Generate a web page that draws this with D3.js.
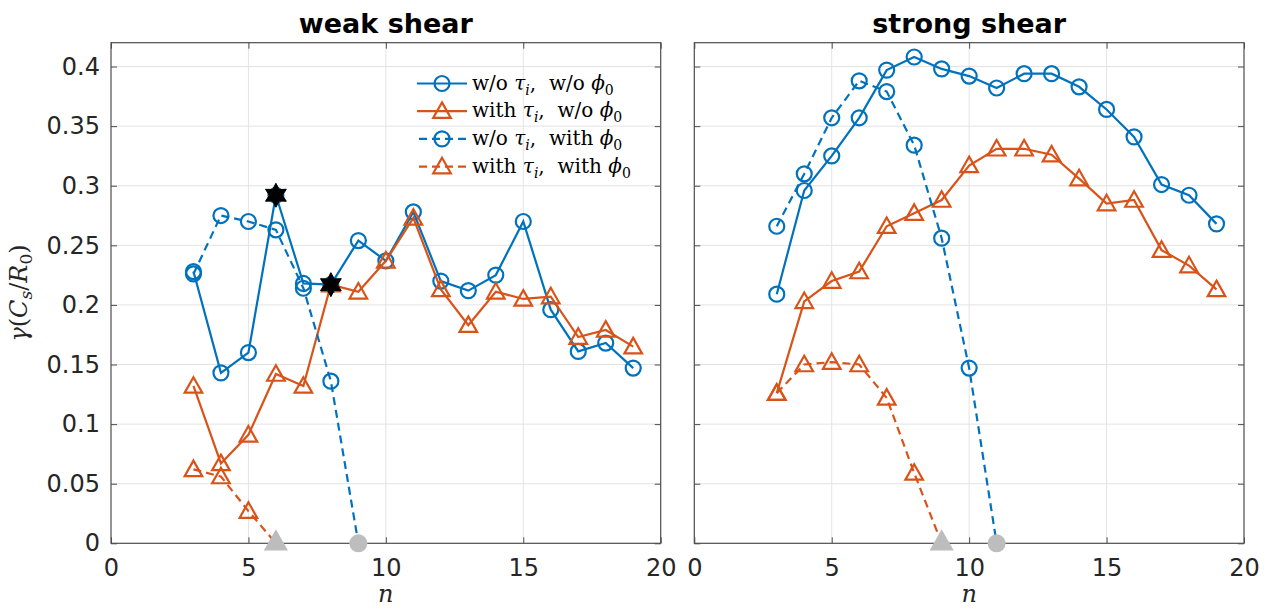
<!DOCTYPE html>
<html>
<head>
<meta charset="utf-8">
<script src="https://cdn.jsdelivr.net/npm/d3@7"></script>
<style>
    body { margin: 0; background: #fff; }
    svg { display: block; }
</style>
</head>
<body>
<svg id="chart" width="1270" height="611"></svg>
<script>
// Data
const xTicks = [0, 5, 10, 15, 20];
const yTicks = [0, 0.05, 0.1, 0.15, 0.2, 0.25, 0.3, 0.35, 0.4];
const yTickLabels = ["0", "0.05", "0.1", "0.15", "0.2", "0.25", "0.3", "0.35", "0.4"];

const nFull = [3, 4, 5, 6, 7, 8, 9, 10, 11, 12, 13, 14, 15, 16, 17, 18, 19];

// weak shear
const weakNoTauNoPhi = [0.228, 0.143, 0.160, 0.292, 0.218, 0.217, 0.254, 0.237, 0.278, 0.220, 0.212, 0.225, 0.270, 0.196, 0.161, 0.168, 0.147];
const weakTauNoPhi = [0.132, 0.067, 0.091, 0.142, 0.132, 0.217, 0.211, 0.237, 0.273, 0.213, 0.183, 0.211, 0.205, 0.207, 0.173, 0.179, 0.165];
const weakNoTauPhiN = [3, 4, 5, 6, 7, 8, 9];
const weakNoTauPhi = [0.226, 0.275, 0.270, 0.263, 0.214, 0.136, 0];
const weakTauPhiN = [3, 4, 5, 6];
const weakTauPhi = [0.062, 0.056, 0.027, 0];
const weakStarN = [6, 8];
const weakStar = [0.292, 0.217];

// strong shear
const strongNoTauNoPhi = [0.209, 0.296, 0.325, 0.357, 0.397, 0.408, 0.398, 0.392, 0.382, 0.394, 0.394, 0.383, 0.364, 0.341, 0.301, 0.292, 0.268];
const strongTauNoPhi = [0.126, 0.203, 0.220, 0.228, 0.266, 0.277, 0.288, 0.317, 0.331, 0.331, 0.326, 0.306, 0.285, 0.288, 0.246, 0.233, 0.213];
const strongNoTauPhiN = [3, 4, 5, 6, 7, 8, 9, 10, 11];
const strongNoTauPhi = [0.266, 0.310, 0.357, 0.388, 0.379, 0.334, 0.256, 0.147, 0];
const strongTauPhiN = [3, 4, 5, 6, 7, 8, 9];
const strongTauPhi = [0.126, 0.150, 0.152, 0.150, 0.122, 0.059, 0];

const blue = "#0072BD";
const orange = "#D95319";
const gray = "#bdbdbd";

const svg = d3.select("#chart");
const plotTop = 42.7, plotBottom = 543.3;
const lineW = 2.2;

function zip(ns, vs) {
    return ns.map((n, i) => ({ n: n, v: vs[i] }));
}

function trianglePath(s) {
    // upward triangle centred on the point
    return `M0,${-s * 0.55}L${s * 0.55},${s * 0.42}L${-s * 0.55},${s * 0.42}Z`;
}

function hexagramPath(r) {
    const pts = [];
    for (let k = 0; k < 12; k++) {
        const a = -Math.PI / 2 + k * Math.PI / 6;
        const rr = k % 2 === 0 ? r : r * 0.55;
        pts.push([rr * Math.cos(a), rr * Math.sin(a)]);
    }
    return "M" + pts.map(p => p.join(",")).join("L") + "Z";
}

// Draw one panel
function drawPanel(left, right, title, series, stars, showYLabels) {
    const x = d3.scaleLinear().domain([0, 20]).range([left, right]);
    const y = d3.scaleLinear().domain([0, 0.42]).range([plotBottom, plotTop]);
    const g = svg.append("g");

    // grid
    g.selectAll(".gx").data(xTicks.slice(1, -1)).enter().append("line")
        .attr("x1", d => x(d)).attr("x2", d => x(d))
        .attr("y1", plotTop).attr("y2", plotBottom)
        .style("stroke", "#e3e3e3").style("stroke-width", 1);
    g.selectAll(".gy").data(yTicks.slice(1)).enter().append("line")
        .attr("x1", left).attr("x2", right)
        .attr("y1", d => y(d)).attr("y2", d => y(d))
        .style("stroke", "#e3e3e3").style("stroke-width", 1);

    // axes (ticks inside, box on)
    const axisStyle = sel => {
        sel.select(".domain").remove();
        sel.selectAll(".tick line").style("stroke", "#4d4d4d");
        sel.selectAll("text").style("font-family", "DejaVu Sans").style("font-size", "24px").style("fill", "#262626");
    };
    g.append("g").attr("transform", `translate(0,${plotBottom})`)
        .call(d3.axisBottom(x).tickValues(xTicks).tickSize(-6).tickPadding(16))
        .call(axisStyle);
    g.append("g").attr("transform", `translate(0,${plotTop})`)
        .call(d3.axisTop(x).tickValues(xTicks).tickSize(-6).tickFormat(""))
        .call(axisStyle);
    g.append("g").attr("transform", `translate(${left},0)`)
        .call(d3.axisLeft(y).tickValues(yTicks).tickSize(-6).tickPadding(11)
            .tickFormat((d, i) => showYLabels ? yTickLabels[i] : ""))
        .call(axisStyle);
    g.append("g").attr("transform", `translate(${right},0)`)
        .call(d3.axisRight(y).tickValues(yTicks).tickSize(-6).tickFormat(""))
        .call(axisStyle);
    g.append("rect")
        .attr("x", left).attr("y", plotTop)
        .attr("width", right - left).attr("height", plotBottom - plotTop)
        .style("fill", "none").style("stroke", "#4d4d4d").style("stroke-width", 1.2);

    // title
    g.append("text")
        .attr("x", (left + right) / 2).attr("y", 33)
        .attr("text-anchor", "middle")
        .style("font-family", "DejaVu Sans").style("font-weight", "bold")
        .style("font-size", "27px").style("fill", "#000")
        .text(title);

    // x label
    g.append("text")
        .attr("x", (left + right) / 2).attr("y", 602)
        .attr("text-anchor", "middle")
        .style("font-family", "DejaVu Serif").style("font-style", "italic")
        .style("font-size", "24px").style("fill", "#262626")
        .text("n");

    const line = d3.line().x(d => x(d.n)).y(d => y(d.v));

    series.forEach(s => {
        g.append("path")
            .datum(s.data)
            .attr("d", line)
            .style("fill", "none")
            .style("stroke", s.color)
            .style("stroke-width", lineW)
            .style("stroke-dasharray", s.dashed ? "8,5" : null);

        const pts = s.data.filter(d => d.v > 0);
        if (s.marker === "circle") {
            g.selectAll(null).data(pts).enter().append("circle")
                .attr("cx", d => x(d.n)).attr("cy", d => y(d.v))
                .attr("r", 7.5)
                .style("fill", "none").style("stroke", s.color).style("stroke-width", lineW);
        } else {
            g.selectAll(null).data(pts).enter().append("path")
                .attr("transform", d => `translate(${x(d.n)},${y(d.v)})`)
                .attr("d", trianglePath(16))
                .style("fill", "none").style("stroke", s.color).style("stroke-width", lineW)
                .style("stroke-linejoin", "miter");
        }

        // points where the growth rate drops to zero
        const zeros = s.data.filter(d => d.v === 0);
        if (s.marker === "circle") {
            g.selectAll(null).data(zeros).enter().append("circle")
                .attr("cx", d => x(d.n)).attr("cy", d => y(d.v))
                .attr("r", 9).style("fill", gray);
        } else {
            g.selectAll(null).data(zeros).enter().append("path")
                .attr("transform", d => `translate(${x(d.n)},${y(d.v) - 2})`)
                .attr("d", trianglePath(22))
                .style("fill", gray);
        }
    });

    if (stars) {
        g.selectAll(null).data(stars).enter().append("path")
            .attr("transform", d => `translate(${x(d.n)},${y(d.v)})`)
            .attr("d", hexagramPath(12))
            .style("fill", "#000").style("stroke", "#000").style("stroke-width", 1);
    }
}

function drawLegend() {
    const entries = [
        { color: blue, dashed: false, marker: "circle", a: "w/o ", b: ",  w/o " },
        { color: orange, dashed: false, marker: "triangle", a: "with ", b: ",  w/o " },
        { color: blue, dashed: true, marker: "circle", a: "w/o ", b: ",  with " },
        { color: orange, dashed: true, marker: "triangle", a: "with ", b: ",  with " }
    ];
    const lg = svg.append("g");
    entries.forEach((e, i) => {
        const yy = 83.5 + i * 27.7;
        lg.append("line")
            .attr("x1", 417).attr("x2", 467).attr("y1", yy).attr("y2", yy)
            .style("stroke", e.color).style("stroke-width", lineW)
            .style("stroke-dasharray", e.dashed ? "8,5" : null)
            .style("stroke-dashoffset", e.dashed ? -2 : null);
        if (e.marker === "circle") {
            lg.append("circle").attr("cx", 442).attr("cy", yy).attr("r", 7.5)
                .style("fill", "none").style("stroke", e.color).style("stroke-width", lineW);
        } else {
            lg.append("path").attr("transform", `translate(442,${yy})`)
                .attr("d", trianglePath(16))
                .style("fill", "none").style("stroke", e.color).style("stroke-width", lineW);
        }
        const t = lg.append("text")
            .attr("x", 472).attr("y", yy + 6)
            .style("font-family", "DejaVu Serif").style("font-size", "20px").style("fill", "#000")
            .style("white-space", "pre");
        t.append("tspan").text(e.a);
        t.append("tspan").style("font-style", "italic").text("τ");
        t.append("tspan").attr("dy", 5).style("font-size", "14px").style("font-style", "italic").text("i");
        t.append("tspan").attr("dy", -5).text(e.b);
        t.append("tspan").style("font-style", "italic").text("ϕ");
        t.append("tspan").attr("dy", 5).style("font-size", "14px").text("0");
    });
}

function drawYLabel() {
    const t = svg.append("text")
        .attr("transform", "translate(27,293) rotate(-90)")
        .attr("text-anchor", "middle")
        .style("font-family", "DejaVu Serif").style("font-size", "24px").style("fill", "#262626");
    t.append("tspan").style("font-style", "italic").text("γ");
    t.append("tspan").text("(");
    t.append("tspan").style("font-style", "italic").text("C");
    t.append("tspan").attr("dy", 5).style("font-size", "17px").style("font-style", "italic").text("s");
    t.append("tspan").attr("dy", -5).text("/");
    t.append("tspan").style("font-style", "italic").text("R");
    t.append("tspan").attr("dy", 5).style("font-size", "17px").text("0");
    t.append("tspan").attr("dy", -5).text(")");
}

drawPanel(111, 660.7, "weak shear", [
    { data: zip(nFull, weakNoTauNoPhi), color: blue, dashed: false, marker: "circle" },
    { data: zip(nFull, weakTauNoPhi), color: orange, dashed: false, marker: "triangle" },
    { data: zip(weakNoTauPhiN, weakNoTauPhi), color: blue, dashed: true, marker: "circle" },
    { data: zip(weakTauPhiN, weakTauPhi), color: orange, dashed: true, marker: "triangle" }
], zip(weakStarN, weakStar), true);

drawPanel(694.3, 1244, "strong shear", [
    { data: zip(nFull, strongNoTauNoPhi), color: blue, dashed: false, marker: "circle" },
    { data: zip(nFull, strongTauNoPhi), color: orange, dashed: false, marker: "triangle" },
    { data: zip(strongNoTauPhiN, strongNoTauPhi), color: blue, dashed: true, marker: "circle" },
    { data: zip(strongTauPhiN, strongTauPhi), color: orange, dashed: true, marker: "triangle" }
], null, false);

drawLegend();
drawYLabel();
</script>
</body>
</html>
